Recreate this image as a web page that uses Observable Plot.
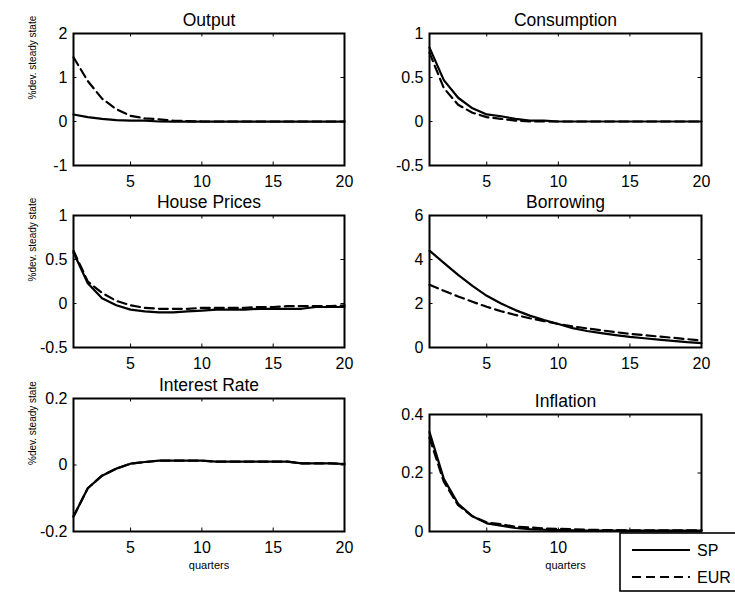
<!DOCTYPE html>
<html>
<head>
<meta charset="utf-8">
<script src="https://cdn.jsdelivr.net/npm/d3@7"></script>
<script src="https://cdn.jsdelivr.net/npm/@observablehq/plot@0.6"></script>
<style>
  html, body { margin: 0; padding: 0; background: white; }
  #chart { position: relative; width: 735px; height: 595px; overflow: hidden; background: white;
           font-family: "Liberation Sans", Arial, sans-serif; }
  #chart svg { position: absolute; }
</style>
</head>
<body>
<div id="chart"></div>
<script>
// ---- data ----
const quarters = [1,2,3,4,5,6,7,8,9,10,11,12,13,14,15,16,17,18,19,20];
const xTicks = [5, 10, 15, 20];
const xTickLabelsUnderLegend = [5, 10];   // 15 and 20 are hidden behind the legend in the original
const seriesNames = ["SP", "EUR"];

const outputSP  = [0.16,0.10,0.06,0.03,0.02,0.02,0.00,-0.005,-0.005,-0.005,-0.005,-0.005,-0.005,-0.005,-0.005,-0.005,-0.005,-0.005,-0.005,-0.005];
const outputEUR = [1.46,0.92,0.52,0.28,0.13,0.07,0.05,0.02,0.01,0.00,0,0,0,0,0,0,0,0,0,0];
const outputTicks = [-1, 0, 1, 2];

const consSP  = [0.84,0.47,0.27,0.15,0.08,0.06,0.03,0.01,0.01,0.00,0,0,0,0,0,0,0,0,0,0];
const consEUR = [0.78,0.38,0.19,0.10,0.05,0.03,0.01,0.00,0,0,0,0,0,0,0,0,0,0,0,0];
const consTicks = [-0.5, 0, 0.5, 1];

const houseSP  = [0.58,0.23,0.06,-0.02,-0.07,-0.09,-0.10,-0.10,-0.09,-0.08,-0.07,-0.07,-0.07,-0.06,-0.06,-0.06,-0.06,-0.04,-0.04,-0.04];
const houseEUR = [0.60,0.25,0.12,0.03,-0.02,-0.05,-0.06,-0.06,-0.06,-0.05,-0.05,-0.05,-0.05,-0.04,-0.04,-0.03,-0.03,-0.03,-0.03,-0.02];
const houseTicks = [-0.5, 0, 0.5, 1];

const borrowSP  = [4.40,3.85,3.30,2.80,2.35,2.00,1.70,1.45,1.25,1.07,0.88,0.75,0.65,0.56,0.48,0.42,0.36,0.30,0.24,0.20];
const borrowEUR = [2.85,2.58,2.32,2.08,1.85,1.65,1.48,1.33,1.20,1.07,0.96,0.87,0.78,0.70,0.62,0.56,0.50,0.44,0.38,0.32];
const borrowTicks = [0, 2, 4, 6];

const rateSP  = [-0.155,-0.070,-0.032,-0.011,0.004,0.009,0.013,0.013,0.013,0.013,0.010,0.010,0.010,0.010,0.010,0.010,0.005,0.005,0.005,0.003];
const rateEUR = [-0.155,-0.070,-0.032,-0.011,0.004,0.009,0.013,0.013,0.013,0.013,0.010,0.010,0.010,0.010,0.010,0.010,0.005,0.005,0.005,0.003];
const rateTicks = [-0.2, 0, 0.2];

const inflSP  = [0.34,0.18,0.095,0.052,0.028,0.020,0.012,0.008,0.006,0.005,0.004,0.003,0.003,0.003,0.003,0.003,0.003,0.003,0.003,0.003];
const inflEUR = [0.32,0.17,0.090,0.052,0.031,0.025,0.016,0.014,0.010,0.009,0.008,0.006,0.005,0.005,0.004,0.004,0.004,0.004,0.004,0.004];
const inflTicks = [0, 0.2, 0.4];

const titles = ["Output", "Consumption", "House Prices", "Borrowing", "Interest Rate", "Inflation"];
const yLabel = "%dev. steady state";
const xLabel = "quarters";

// ---- layout (axes boxes) ----
const panels = [
  {title: titles[0], sp: outputSP, eur: outputEUR, ticks: outputTicks, xlab: xTicks, left: 73,  top: 33,  w: 271, h: 132, yl: true,  xl: false},
  {title: titles[1], sp: consSP,   eur: consEUR,   ticks: consTicks,   xlab: xTicks, left: 429, top: 33,  w: 272, h: 132, yl: false, xl: false},
  {title: titles[2], sp: houseSP,  eur: houseEUR,  ticks: houseTicks,  xlab: xTicks, left: 73,  top: 215, w: 271, h: 132, yl: true,  xl: false},
  {title: titles[3], sp: borrowSP, eur: borrowEUR, ticks: borrowTicks, xlab: xTicks, left: 429, top: 215, w: 272, h: 132, yl: false, xl: false},
  {title: titles[4], sp: rateSP,   eur: rateEUR,   ticks: rateTicks,   xlab: xTicks, left: 73,  top: 398, w: 271, h: 133, yl: true,  xl: true},
  {title: titles[5], sp: inflSP,   eur: inflEUR,   ticks: inflTicks,   xlab: xTickLabelsUnderLegend, left: 429, top: 414, w: 272, h: 117, yl: false, xl: true}
];

const root = document.getElementById("chart");
const ml = 60, mr = 15, mt = 35, mb = 50, tl = 3.5;

for (const p of panels) {
  const data = quarters.map((q, i) => ({q, sp: p.sp[i], eur: p.eur[i]}));
  const yDomain = [p.ticks[0], p.ticks[p.ticks.length - 1]];
  const marks = [
    Plot.ruleX(xTicks, {x: d => d, insetTop: p.h - tl, stroke: "black", strokeWidth: 1}),
    Plot.ruleX(xTicks, {x: d => d, insetBottom: p.h - tl, stroke: "black", strokeWidth: 1}),
    Plot.ruleY(p.ticks, {y: d => d, insetRight: p.w - tl, stroke: "black", strokeWidth: 1}),
    Plot.ruleY(p.ticks, {y: d => d, insetLeft: p.w - tl, stroke: "black", strokeWidth: 1}),
    Plot.line(data, {x: "q", y: "sp", stroke: "black", strokeWidth: 2.2}),
    Plot.line(data, {x: "q", y: "eur", stroke: "black", strokeWidth: 2.2, strokeDasharray: "9,5"}),
    Plot.frame({stroke: "black", strokeWidth: 2}),
    Plot.axisX({ticks: p.xlab, tickSize: 0, tickPadding: 10, label: null, fontSize: 16, tickFormat: d => String(d)}),
    Plot.axisY({ticks: p.ticks, tickSize: 0, tickPadding: 6, label: null, fontSize: 16, tickFormat: d => String(d)}),
    Plot.text([p.title], {text: d => d, frameAnchor: "top", dy: -20, fontSize: 17.5, fill: "black"})
  ];
  if (p.yl) marks.push(Plot.text([yLabel], {text: d => d, frameAnchor: "left", dx: -41, rotate: -90, fontSize: 10, fill: "black"}));
  if (p.xl) marks.push(Plot.text([xLabel], {text: d => d, frameAnchor: "bottom", dy: 37, fontSize: 11, fill: "black"}));
  const svg = Plot.plot({
    width: p.w + ml + mr, height: p.h + mt + mb,
    marginLeft: ml, marginRight: mr, marginTop: mt, marginBottom: mb,
    x: {domain: [1, 20]},
    y: {domain: yDomain},
    style: {background: "transparent", overflow: "visible", color: "black",
            fontFamily: "'Liberation Sans', Arial, sans-serif", fontSize: "16px"},
    marks
  });
  svg.style.left = (p.left - ml) + "px";
  svg.style.top = (p.top - mt) + "px";
  svg.style.maxWidth = "none";
  root.appendChild(svg);
}

// ---- legend ----
const legend = d3.create("svg")
  .attr("width", 125).attr("height", 62)
  .style("left", "619px").style("top", "532px")
  .style("position", "absolute").style("overflow", "visible");
legend.append("rect").attr("x", 1).attr("y", 1).attr("width", 122).attr("height", 58)
  .attr("fill", "white").attr("stroke", "black").attr("stroke-width", 1.6);
const rows = legend.selectAll("g").data(seriesNames).join("g")
  .attr("transform", (d, i) => `translate(0, ${18 + i * 27})`);
rows.append("line").attr("x1", 13).attr("x2", 71).attr("y1", 0).attr("y2", 0)
  .attr("stroke", "black").attr("stroke-width", 2.2)
  .attr("stroke-dasharray", (d, i) => i ? "9,5" : null);
rows.append("text").attr("x", 78).attr("y", 0).attr("dy", "0.36em")
  .attr("font-size", 16).attr("font-family", "'Liberation Sans', Arial, sans-serif")
  .text(d => d);
root.appendChild(legend.node());
</script>
</body>
</html>
